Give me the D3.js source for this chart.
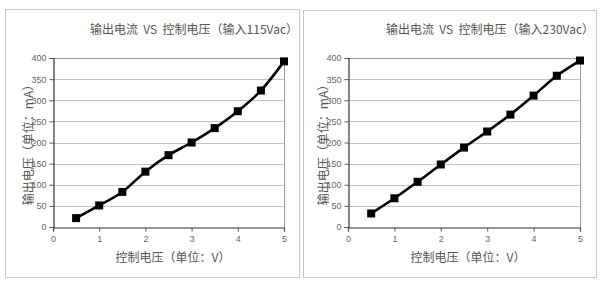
<!DOCTYPE html>
<html><head><meta charset="utf-8">
<script src="https://cdn.jsdelivr.net/npm/d3@7"></script>
<style>body{margin:0;background:#fff}svg{display:block}</style>
</head><body><svg id="c" width="600" height="284"></svg>
<script>
const xValues = [0.5, 1, 1.5, 2, 2.5, 3, 3.5, 4, 4.5, 5];
const current115 = [21, 51, 83, 131, 170, 200, 234, 274, 323, 392];
const current230 = [32, 68, 107, 148, 188, 226, 266, 311, 358, 394];
const xTicks = [0, 1, 2, 3, 4, 5];
const yTicks = [0, 50, 100, 150, 200, 250, 300, 350, 400];
const titles = ["输出电流 VS 控制电压（输入115Vac）", "输出电流 VS 控制电压（输入230Vac）"];
const xLabel = "控制电压（单位：V）";
const yLabel = "输出电压（单位：mA）";

const svg = d3.select("#c");
const font = "'Noto Sans CJK SC', 'DejaVu Sans', sans-serif";
const panels = [
  {box:[5,9,294,268], px:[53,284], title:titles[0], data:current115, titleX:194, xlabX:173},
  {box:[303,10,293,267], px:[348,580], title:titles[1], data:current230, titleX:490, xlabX:468}
];
panels.forEach(p => {
  const g = svg.append("g");
  g.append("rect").attr("x",p.box[0]+0.5).attr("y",p.box[1]+0.5).attr("width",p.box[2]).attr("height",p.box[3])
    .attr("fill","#fff").attr("stroke","#c8c8c8").attr("stroke-width",1);
  const x = d3.scaleLinear().domain([0,5]).range(p.px);
  const y = d3.scaleLinear().domain([0,400]).range([227,58]);
  g.append("g").selectAll("line").data(yTicks.slice(1)).join("line")
    .attr("x1",p.px[0]).attr("x2",p.px[1]).attr("y1",d=>Math.round(y(d))+0.5).attr("y2",d=>Math.round(y(d))+0.5)
    .attr("stroke",d=>d===400?"#999":"#c4c4c4").attr("stroke-width",1);
  g.append("line").attr("x1",p.px[1]+0.5).attr("x2",p.px[1]+0.5).attr("y1",y(400)).attr("y2",y(0))
    .attr("stroke","#999");
  const ya = g.append("g").attr("transform",`translate(${p.px[0]+0.5},0)`)
    .call(d3.axisLeft(y).tickValues(yTicks).tickFormat(d3.format("d")).tickSize(4).tickPadding(3));
  const xa = g.append("g").attr("transform",`translate(0,${Math.round(y(0))+0.5})`)
    .call(d3.axisBottom(x).tickValues(xTicks).tickFormat(d3.format("d")).tickSize(4).tickPadding(4));
  [ya,xa].forEach(a=>{
    a.select(".domain").attr("stroke","#333").attr("stroke-width",1.2);
    a.selectAll(".tick line").attr("stroke","#555");
    a.selectAll("text").attr("fill","#666").style("font-family","'Liberation Sans', Arial, sans-serif").style("font-size","9px");
  });
  const pts = xValues.map((v,i)=>[x(v), y(p.data[i])]);
  g.append("path").attr("d", d3.line().curve(d3.curveCatmullRom.alpha(0.5))(pts))
    .attr("fill","none").attr("stroke","#000").attr("stroke-width",2.6);
  g.selectAll("rect.m").data(pts).join("rect").attr("class","m")
    .attr("x",d=>d[0]-4).attr("y",d=>d[1]-4).attr("width",8).attr("height",8).attr("fill","#000");
  g.append("text").attr("x",p.titleX).attr("y",34).attr("text-anchor","middle").attr("xml:space","preserve")
    .attr("fill","#555").style("font-family",font).style("font-size","12px").style("white-space","pre").text(p.title.replace(" VS ","  VS  "));
  g.append("text").attr("x",p.xlabX).attr("y",262).attr("text-anchor","middle")
    .attr("fill","#555").style("font-family",font).style("font-size","12px").text(xLabel);
  g.append("text").attr("transform",`translate(${p.px[0]-20},142) rotate(-90)`).attr("text-anchor","middle")
    .attr("fill","#555").style("font-family",font).style("font-size","12px").text(yLabel);
});
</script></body></html>
